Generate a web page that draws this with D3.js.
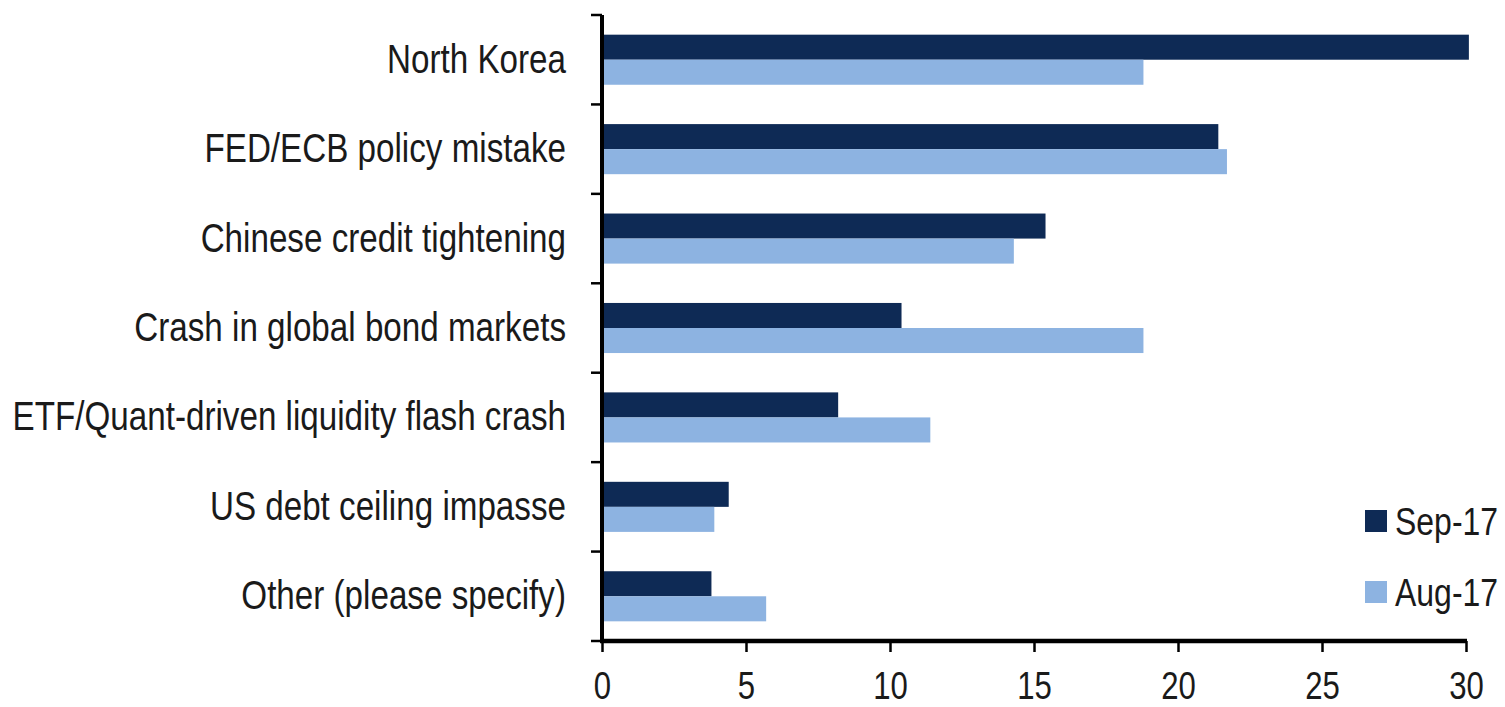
<!DOCTYPE html>
<html>
<head>
<meta charset="utf-8">
<script src="https://cdn.jsdelivr.net/npm/d3@7"></script>
<style>
  html, body { margin: 0; padding: 0; background: #ffffff; }
  svg { display: block; }
  text { font-family: "Liberation Sans", Arial, sans-serif; fill: #1a1a1a; }
</style>
</head>
<body>
<svg id="chart" width="1505" height="707"></svg>
<script>
// Survey risks: share of respondents by month
const categories = [
  "North Korea",
  "FED/ECB policy mistake",
  "Chinese credit tightening",
  "Crash in global bond markets",
  "ETF/Quant-driven liquidity flash crash",
  "US debt ceiling impasse",
  "Other (please specify)"
];
const seriesNames = ["Sep-17", "Aug-17"];
const sep17 = [30.1, 21.4, 15.4, 10.4, 8.2, 4.4, 3.8];
const aug17 = [18.8, 21.7, 14.3, 18.8, 11.4, 3.9, 5.7];
const xTicks = [0, 5, 10, 15, 20, 25, 30];

const colors = { "Sep-17": "#0e2a55", "Aug-17": "#8db3e1" };
const squeeze = 0.82; // narrow rendering of the typeface

const svg = d3.select("#chart");
const plotLeft = 602, plotRight = 1466, plotTop = 15, plotBottom = 641;

const x = d3.scaleLinear().domain([0, 30]).range([plotLeft, plotRight]);
const y0 = d3.scaleBand().domain(categories).range([plotTop, plotBottom])
  .paddingInner(0.44).paddingOuter(0.22);
const y1 = d3.scaleBand().domain(seriesNames).range([0, y0.bandwidth()]);

const rows = categories.map((c, i) => ({ cat: c, values: [
  { s: "Sep-17", v: sep17[i] },
  { s: "Aug-17", v: aug17[i] }
]}));

// bars
const g = svg.append("g");
g.selectAll("g.row").data(rows).join("g")
  .attr("class", "row")
  .attr("transform", d => `translate(0,${y0(d.cat)})`)
  .selectAll("rect").data(d => d.values).join("rect")
  .attr("x", x(0))
  .attr("y", d => y1(d.s))
  .attr("width", d => x(d.v) - x(0))
  .attr("height", y1.bandwidth())
  .attr("fill", d => colors[d.s]);

// category labels
const bandStep = (plotBottom - plotTop) / categories.length;
svg.append("g").selectAll("text").data(categories).join("text")
  .attr("transform", (d, i) => `translate(566,${plotTop + bandStep * (i + 0.5) + 13}) scale(0.83,1)`)
  .attr("text-anchor", "end")
  .style("font-size", "40px")
  .text(d => d);

// y axis line and boundary ticks
const yAxis = svg.append("g");
yAxis.append("line")
  .attr("x1", plotLeft).attr("x2", plotLeft)
  .attr("y1", plotTop).attr("y2", plotBottom + 2)
  .attr("stroke", "#000").attr("stroke-width", 4);
yAxis.selectAll("line.tk").data(d3.range(categories.length + 1)).join("line")
  .attr("class", "tk")
  .attr("x1", plotLeft - 11).attr("x2", plotLeft)
  .attr("y1", i => plotTop + bandStep * i).attr("y2", i => plotTop + bandStep * i)
  .attr("stroke", "#000").attr("stroke-width", 2.5);

// x axis
const xAxis = d3.axisBottom(x).tickValues(xTicks).tickSize(11).tickPadding(14).tickSizeOuter(0);
const xg = svg.append("g").attr("transform", `translate(0,${plotBottom})`).call(xAxis);
xg.select(".domain").attr("stroke", "#000").attr("stroke-width", 4.5)
  .attr("d", `M${plotLeft - 2},0H${plotRight + 1}`);
xg.selectAll(".tick line").attr("stroke", "#000").attr("stroke-width", 2.5);
xg.selectAll(".tick text")
  .attr("y", null).attr("dy", null)
  .attr("transform", `translate(0,58) scale(${squeeze},1)`)
  .style("font-size", "38px")
  .attr("fill", "#1a1a1a");

// legend
const legend = svg.append("g");
const legY = [521, 592];
seriesNames.forEach((s, i) => {
  legend.append("rect")
    .attr("x", 1365).attr("y", legY[i] - 11)
    .attr("width", 22).attr("height", 22)
    .attr("fill", colors[s]);
  legend.append("text")
    .attr("transform", `translate(1395,${legY[i] + 14}) scale(${squeeze},1)`)
    .style("font-size", "39px")
    .text(s);
});
</script>
</body>
</html>
